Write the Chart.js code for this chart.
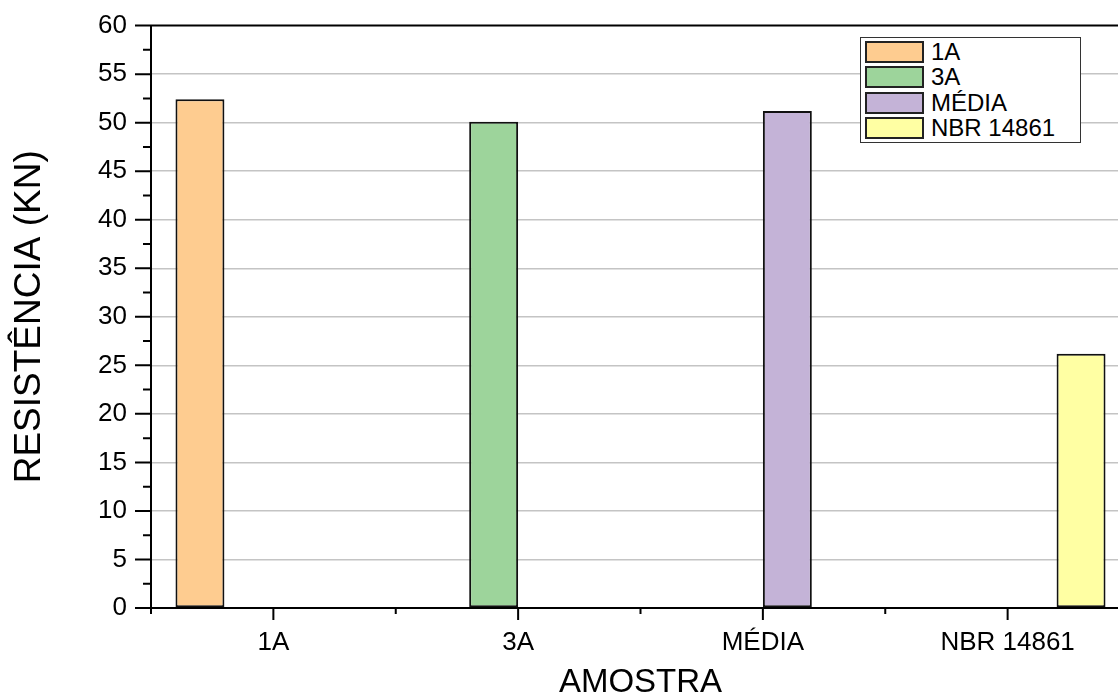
<!DOCTYPE html>
<html>
    <head>
        <title>Resistência por amostra</title>
        <meta charset="utf-8">
        <script src="https://cdn.jsdelivr.net/npm/chart.js@4.4.1/dist/chart.umd.min.js"></script>
        <style>
            html, body { margin: 0; padding: 0; background: #fff; overflow: hidden; }
            #wrap { position: absolute; left: 0; top: -14px; width: 1130px; height: 711px; }
            #legenda {
                position: absolute; left: 860px; top: 37px; width: 219px;
                border: 1px solid #333; background: #fff; padding: 1px 0 1px 0;
                font-family: 'Liberation Sans', Arial, sans-serif; font-size: 24px; color: #000;
            }
            #legenda div { height: 25.5px; display: flex; align-items: center; }
            #legenda span.cor { width: 55px; height: 18px; border: 2px solid #222; margin: 0 7px 0 4px; }
        </style>
    </head>
    <body>
        <div id="wrap"><canvas id="grafico"></canvas></div>
        <div id="legenda"></div>

        <script>
            // dados
            const amostras = ['1A', '3A', 'MÉDIA', 'NBR 14861'];
            const resistencia = [52.4, 50.1, 51.2, 26.2];
            const cores = ['#FECC90', '#9DD49B', '#C4B3D7', '#FFFFA3'];
            const yTicks = [0, 5, 10, 15, 20, 25, 30, 35, 40, 45, 50, 55, 60];

            const fonte = "'Liberation Sans', Arial, sans-serif";

            // cada série só tem valor na sua própria amostra
            let datasets = amostras.map((nome, i) => ({
                label: nome,
                data: amostras.map((a, j) => j === i ? resistencia[i] : null),
                backgroundColor: cores[i],
                borderColor: '#111',
                borderWidth: 2,
                borderSkipped: false,
                categoryPercentage: 0.8,
                barPercentage: 1.0
            }));

            // eixos com ticks maiores e menores, estilo Origin
            let eixos = {
                id: 'eixos',
                afterDraw(chart) {
                    let ctx = chart.ctx;
                    let x = chart.scales.x, y = chart.scales.y;
                    let a = chart.chartArea;
                    ctx.save();
                    ctx.strokeStyle = '#000';
                    ctx.lineWidth = 2;
                    ctx.beginPath();
                    // linha de cima
                    ctx.moveTo(a.left, a.top); ctx.lineTo(a.right, a.top);
                    // eixo y
                    ctx.moveTo(a.left, a.top); ctx.lineTo(a.left, a.bottom);
                    // eixo x
                    ctx.moveTo(a.left - 16, a.bottom); ctx.lineTo(a.right, a.bottom);
                    for (let v = 0; v <= 60; v += 2.5) {
                        let py = y.getPixelForValue(v);
                        let len = (v % 5 === 0) ? 16 : 8;
                        ctx.moveTo(a.left - len, py); ctx.lineTo(a.left, py);
                    }
                    for (let i = 0; i < amostras.length; i++) {
                        let px = x.getPixelForTick(i);
                        ctx.moveTo(px, a.bottom); ctx.lineTo(px, a.bottom + 12);
                    }
                    let w = (a.right - a.left) / amostras.length;
                    for (let i = 0; i <= amostras.length; i++) {
                        let px = a.left + i * w;
                        ctx.moveTo(px, a.bottom); ctx.lineTo(px, a.bottom + 6);
                    }
                    ctx.stroke();
                    ctx.restore();
                }
            };

            new Chart(document.getElementById('grafico'), {
                type: 'bar',
                data: { labels: amostras, datasets: datasets },
                options: {
                    responsive: true,
                    maintainAspectRatio: false,
                    animation: false,
                    layout: { padding: { top: 12, right: 0, bottom: 0, left: 0 } },
                    plugins: {
                        legend: { display: false },
                        tooltip: { enabled: false }
                    },
                    scales: {
                        x: {
                            offset: true,
                            grid: { display: false },
                            border: { display: false },
                            ticks: {
                                color: '#000', padding: 11,
                                font: { family: fonte, size: 26 },
                                maxRotation: 0
                            },
                            title: {
                                display: true, text: 'AMOSTRA', color: '#000',
                                font: { family: fonte, size: 33 },
                                padding: { top: 0, bottom: -6 }
                            },
                            afterFit: s => { s.height = 89; }
                        },
                        y: {
                            min: 0, max: 60,
                            afterBuildTicks: s => { s.ticks = yTicks.map(v => ({ value: v })); },
                            grid: {
                                drawTicks: false,
                                lineWidth: 1.5,
                                color: c => (c.tick && (c.tick.value === 0 || c.tick.value === 60)) ? 'rgba(0,0,0,0)' : '#c4c4c4'
                            },
                            border: { display: false },
                            ticks: {
                                color: '#000', padding: 24,
                                font: { family: fonte, size: 26 }
                            },
                            title: {
                                display: true, text: 'RESISTÊNCIA (KN)', color: '#000',
                                font: { family: fonte, size: 37 },
                                padding: { top: 8, bottom: 0 }
                            },
                            afterFit: s => { s.width = 151; }
                        }
                    }
                },
                plugins: [eixos]
            });

            // legenda em html, a partir dos mesmos arrays
            let legenda = document.getElementById('legenda');
            amostras.forEach((nome, i) => {
                let linha = document.createElement('div');
                let cor = document.createElement('span');
                cor.className = 'cor';
                cor.style.background = cores[i];
                let txt = document.createElement('span');
                txt.textContent = nome;
                linha.appendChild(cor);
                linha.appendChild(txt);
                legenda.appendChild(linha);
            });
        </script>
    </body>
</html>
